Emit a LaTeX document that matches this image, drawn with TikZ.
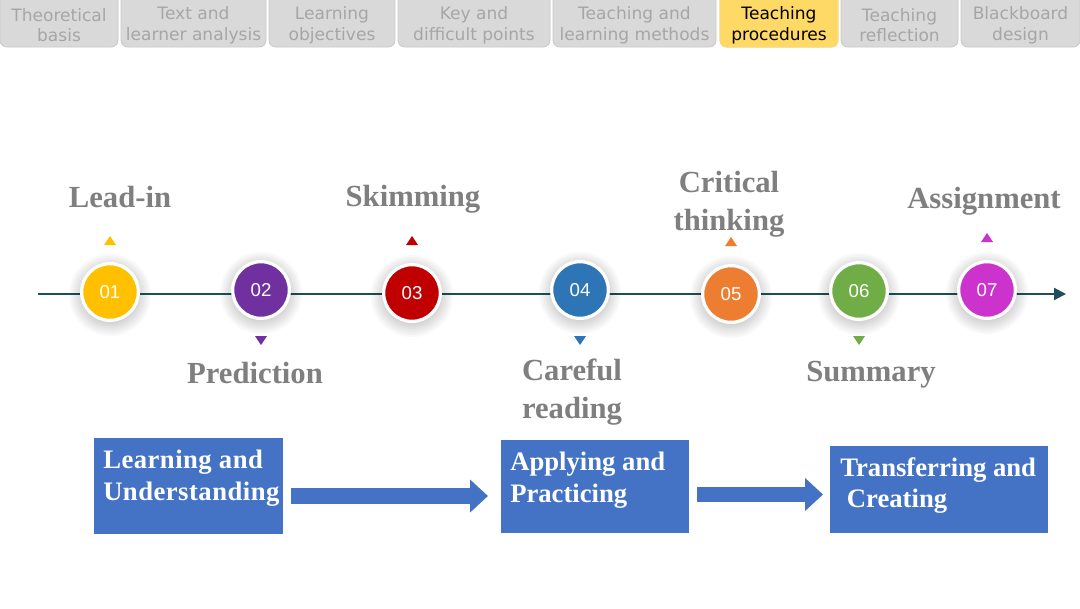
\documentclass[tikz,border=0pt]{standalone}
\usepackage{fontspec}
\setmainfont{Liberation Serif}
\newfontfamily\tabfont{DejaVu Sans}
\newfontfamily\numfont{Liberation Sans}
\newfontfamily\spacedserif[LetterSpace=1.8]{Liberation Serif}
\usetikzlibrary{arrows.meta}
\definecolor{tabfill}{HTML}{D9D9D9}
\definecolor{tabdraw}{HTML}{C9C9C9}
\definecolor{tabtext}{HTML}{A6A6A6}
\definecolor{tabhi}{HTML}{FFD966}
\definecolor{lineteal}{HTML}{1D4E5E}
\definecolor{labgrey}{HTML}{7F7F7F}
\definecolor{boxblue}{HTML}{4472C4}
\definecolor{cA}{HTML}{FFC000}
\definecolor{cB}{HTML}{7030A0}
\definecolor{cC}{HTML}{C00000}
\definecolor{cD}{HTML}{2E75B6}
\definecolor{cE}{HTML}{ED7D31}
\definecolor{cF}{HTML}{70AD47}
\definecolor{cG}{HTML}{CC33CC}
\tikzset{
  tabbox/.style={draw=tabdraw, fill=tabfill, rounded corners=5pt, line width=0.6pt},
  tablabel/.style={align=center, font=\tabfont\fontsize{12.8}{15.5}\selectfont, text=tabtext, inner sep=0pt},
  stepcircle/.style={circle, draw=white, line width=2.4pt, minimum size=42.5pt, inner sep=0pt,
     text=white, font=\numfont\fontsize{14}{16}\selectfont},
  steplabel/.style={align=center, font=\bfseries\fontsize{23}{28.5}\selectfont, text=labgrey, inner sep=0pt},
  phasebox/.style={rectangle, fill=boxblue, inner sep=0pt},
  phasetext/.style={align=left, anchor=north west, text=white, inner sep=0pt,
     font=\bfseries\fontsize{20}{23.5}\selectfont},
  blockarrow/.style={draw=boxblue, line width=11.5pt, -{Triangle[length=13.5pt, width=24pt]}},
  timeline/.style={draw=lineteal, line width=1.6pt, -{Triangle[length=9pt, width=9pt]}},
}
\begin{document}
\begin{tikzpicture}[x=0.75pt,y=-0.75pt]
\useasboundingbox (0,0) rectangle (1080,608);
\fill[white] (0,0) rectangle (1080,608);

% tabs
\foreach \a/\b/\t [count=\i] in {0/118/{Theoretical\\basis}, 121/266/{Text and\\learner analysis},
   269/395/{Learning\\objectives}, 398/550/{Key and\\difficult points},
   553/716/{Teaching and\\learning methods}, 720/838/{Teaching\\procedures},
   841/958/{Teaching\\reflection}, 961/1080/{Blackboard\\design}}{
  \path[tabbox] (\a,-8) rectangle (\b,47);
  \node[tablabel] (tab\i) at ({(\a+\b)/2},25) {\t};
}
\path[tabbox, fill=tabhi, draw=tabhi] (720,-8) rectangle (838,47);
\node[tablabel, text=black] (tab6) at (779,25) {Teaching\\procedures};

% timeline
\coordinate (tlstart) at (38,294);
\coordinate (tlend) at (1066,294);
\draw[timeline] (tlstart) -- (tlend);

% soft shadows of circles
\foreach \x/\y in {110/292, 261/290, 412/293, 580/290, 731/294, 859/291, 987/290}{
  \foreach \r in {41,39,...,29}{
    \fill[black, opacity=0.025] (\x,\y+3) circle[radius=\r*0.75pt];
  }
}

% circles
\node[stepcircle, fill=cA] (s1) at (110,292) {01};
\node[stepcircle, fill=cB] (s2) at (261,290) {02};
\node[stepcircle, fill=cC] (s3) at (412,293) {03};
\node[stepcircle, fill=cD] (s4) at (580,290) {04};
\node[stepcircle, fill=cE] (s5) at (731,294) {05};
\node[stepcircle, fill=cF] (s6) at (859,291) {06};
\node[stepcircle, fill=cG] (s7) at (987,290) {07};

% small triangles (up = above, down = below)
\foreach \x/\y/\c in {110/241/cA, 412/241/cC, 731/242/cE, 987/238/cG}{
  \fill[\c] (\x-6,\y+4) -- (\x+6,\y+4) -- (\x,\y-5) -- cycle;
}
\foreach \x/\y/\c in {261/340/cB, 580/340/cD, 859/340/cF}{
  \fill[\c] (\x-6,\y-4) -- (\x+6,\y-4) -- (\x,\y+5) -- cycle;
}

% labels
\node[steplabel] (l1) at (120,197) {Lead-in};
\node[steplabel] (l2) at (255,373) {Prediction};
\node[steplabel] (l3) at (413,199) {Skimming};
\node[steplabel] (l4) at (572,392) {Careful\\reading};
\node[steplabel] (l5) at (729,204) {Critical\\thinking};
\node[steplabel] (l6) at (871,375) {Summary};
\node[steplabel] (l7) at (984,201) {Assignment};

% phase boxes
\node[phasebox, minimum width=141.75pt, minimum height=72pt] (b1) at (188.5,486) {};
\node[phasebox, minimum width=141pt, minimum height=69.75pt] (b2) at (595,486.5) {};
\node[phasebox, minimum width=163.5pt, minimum height=65.25pt] (b3) at (939,489.5) {};
\node[phasetext, font=\spacedserif\bfseries\fontsize{20}{23.5}\selectfont] (b1t) at (103,450) {Learning and\\Understanding};
\node[phasetext] (b2t) at (510,452) {Applying and\\Practicing};
\node[phasetext] (b3t) at (840,457) {Transferring and\\\ Creating};

% block arrows
\coordinate (a1s) at (291,496);
\coordinate (a1e) at (488,496);
\coordinate (a2s) at (697,494.5);
\coordinate (a2e) at (823,494.5);
\draw[blockarrow] (a1s) -- (a1e);
\draw[blockarrow] (a2s) -- (a2e);
\end{tikzpicture}
\end{document}
